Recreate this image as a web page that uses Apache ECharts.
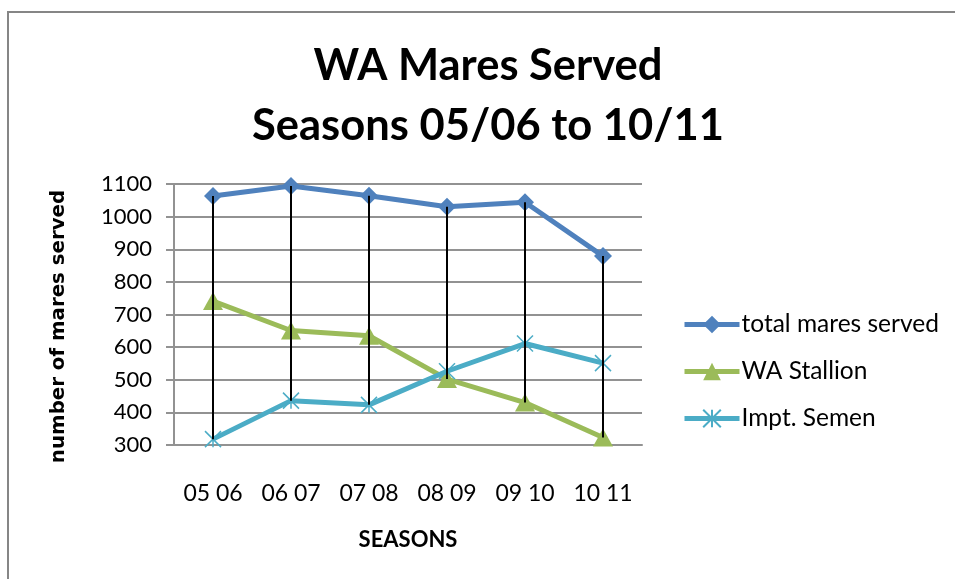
<!DOCTYPE html>
<html>
<head>
<meta charset="utf-8">
<script src="https://cdn.jsdelivr.net/npm/echarts@6/dist/echarts.min.js"></script>
<style>
html,body{margin:0;padding:0;background:#fff;}
#chart{width:955px;height:579px;}
</style>
</head>
<body>
<div id="chart"></div>
<script>
const seasons = ['05 06', '06 07', '07 08', '08 09', '09 10', '10 11'];
const totalMares = [1063, 1094, 1064, 1030, 1044, 879];
const waStallion = [741, 651, 635, 502, 430, 323];
const imptSemen = [318, 436, 423, 526, 611, 551];
const yTicks = [300, 400, 500, 600, 700, 800, 900, 1000, 1100];

const FONT = 'Lato';
const GRID = '#929292';

const highLow = seasons.map((s, i) => {
  const vals = [totalMares[i], waStallion[i], imptSemen[i]];
  return [i, Math.max.apply(null, vals), Math.min.apply(null, vals)];
});

const chart = echarts.init(document.getElementById('chart'), null, {renderer: 'canvas'});
chart.setOption({
  backgroundColor: '#fff',
  animation: false,
  textStyle: {fontFamily: FONT, color: '#000'},
  graphic: [{
    type: 'rect', z: -10,
    shape: {x: 8, y: 12, width: 1000, height: 1000},
    style: {fill: '#fff', stroke: '#868686', lineWidth: 2}
  }],
  title: {
    text: 'WA Mares Served\nSeasons 05/06 to 10/11',
    left: 488,
    top: 36,
    padding: 0,
    textAlign: 'center',
    textStyle: {fontFamily: FONT, fontWeight: 'bold', fontSize: 43.5, lineHeight: 60, color: '#000'}
  },
  grid: {left: 174, right: 313, top: 184, bottom: 134, containLabel: false},
  legend: {
    orient: 'vertical',
    left: 682,
    top: 312,
    padding: 0,
    itemWidth: 55,
    itemHeight: 22,
    itemGap: 22,
    lineStyle: {width: 5},
    data: ['total mares served', 'WA Stallion', 'Impt. Semen'],
    textStyle: {fontFamily: FONT, fontSize: 24.5, color: '#000', padding: [0, 0, 0, -3]}
  },
  xAxis: {
    type: 'category',
    data: seasons,
    boundaryGap: true,
    name: 'SEASONS',
    nameLocation: 'middle',
    nameGap: 84,
    nameTextStyle: {fontFamily: FONT, fontWeight: 'bold', fontSize: 22, color: '#000', verticalAlign: 'top'},
    axisLine: {show: true, lineStyle: {color: GRID, width: 2}},
    axisTick: {show: false},
    axisLabel: {fontFamily: FONT, fontSize: 23, color: '#000', margin: 37},
    splitLine: {show: false}
  },
  yAxis: {
    type: 'value',
    min: yTicks[0],
    max: yTicks[yTicks.length - 1],
    interval: 100,
    name: 'number of mares served',
    nameLocation: 'middle',
    nameGap: 105,
    nameRotate: 90,
    nameTextStyle: {fontFamily: 'DejaVu Sans', fontWeight: 'bold', fontSize: 19.8, color: '#000', padding: [0, 0, 0, -24]},
    axisLine: {show: true, lineStyle: {color: GRID, width: 2}},
    axisTick: {show: true, length: 8, lineStyle: {color: GRID, width: 2}},
    axisLabel: {fontFamily: FONT, fontSize: 22, color: '#000', margin: 22, formatter: v => String(v)},
    splitLine: {show: true, lineStyle: {color: GRID, width: 2}}
  },
  series: [
    {
      name: 'total mares served', type: 'line', data: totalMares,
      symbol: 'diamond', symbolSize: 18,
      lineStyle: {color: '#4F81BD', width: 5},
      itemStyle: {color: '#4F81BD'},
      z: 2
    },
    {
      name: 'WA Stallion', type: 'line', data: waStallion,
      symbol: 'triangle', symbolSize: [20, 18],
      lineStyle: {color: '#9BBB59', width: 5},
      itemStyle: {color: '#9BBB59'},
      z: 3
    },
    {
      name: 'Impt. Semen', type: 'line', data: imptSemen,
      symbol: 'path://M0,0 L10,10 M10,0 L0,10 M5,0 L5,10', symbolSize: 16,
      lineStyle: {color: '#4BACC6', width: 5},
      itemStyle: {color: '#4BACC6', borderColor: '#4BACC6', borderWidth: 1.5},
      z: 4
    },
    {
      name: 'highLow', type: 'custom', data: highLow,
      encode: {x: 0, y: [1, 2]},
      silent: true, z: 10,
      renderItem: function (params, api) {
        const p1 = api.coord([api.value(0), api.value(1)]);
        const p2 = api.coord([api.value(0), api.value(2)]);
        return {
          type: 'line',
          shape: {x1: p1[0], y1: p1[1], x2: p2[0], y2: p2[1]},
          style: {stroke: '#000', lineWidth: 2}
        };
      }
    }
  ]
});
</script>
</body>
</html>
